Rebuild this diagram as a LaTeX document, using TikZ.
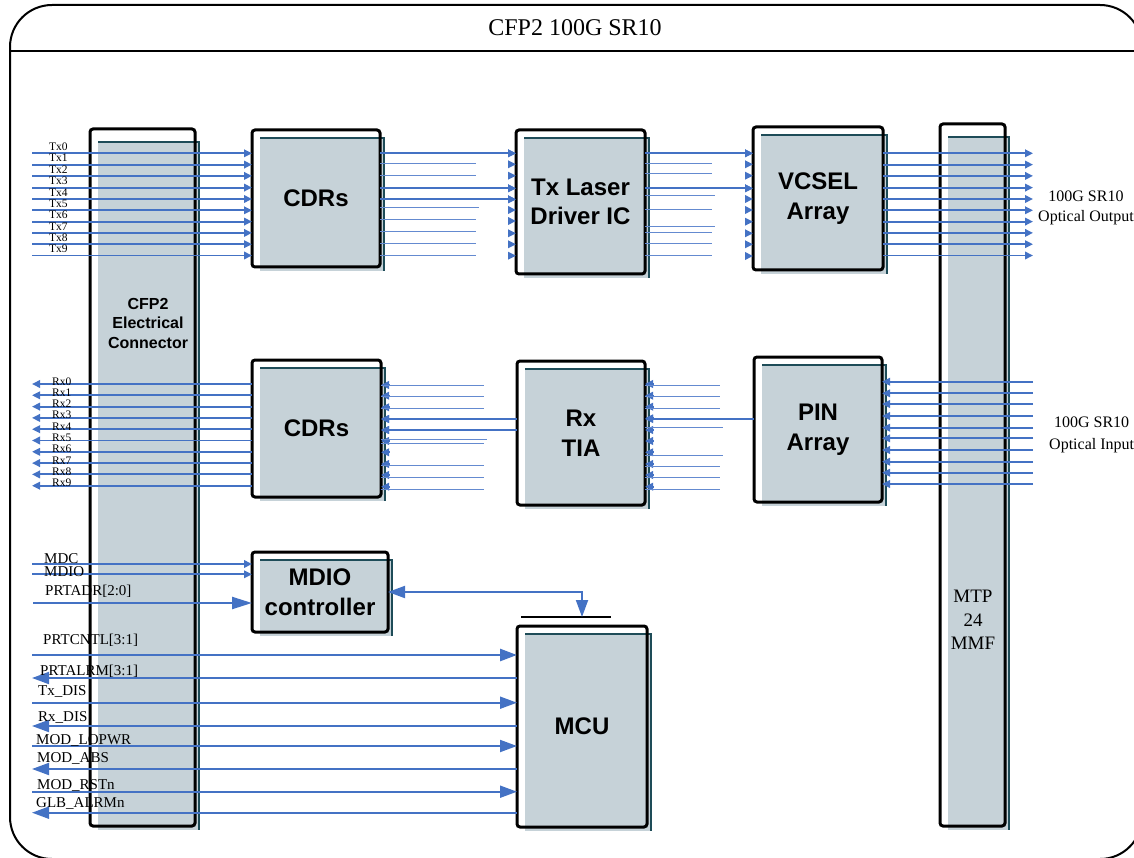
\documentclass[tikz,border=0pt]{standalone}
\usepackage{fontspec}
\setmainfont{Liberation Serif}
\setsansfont{Liberation Sans}
\usetikzlibrary{arrows.meta,calc}
\definecolor{lineblue}{RGB}{68,114,196}
\definecolor{thinblue}{RGB}{100,138,208}
\definecolor{boxgray}{RGB}{198,210,216}
\definecolor{tealedge}{RGB}{30,76,88}
\newcommand\blockbox[7]{%
  \fill[boxgray] (#2+8,#3+#6) rectangle (#4+5,#5+4);
  \draw[tealedge, line width=2.5pt] (#2+8,#3+#6) -- (#4+4,#3+#6) -- (#4+4,#5+4);
  \pgfmathsetmacro\bw{#4-#2}\pgfmathsetmacro\bh{#5-#3}%
  \node[blk, minimum width=\bw pt, minimum height=\bh pt] (#1) at ({(#2+#4)/2},{(#3+#5)/2}) {#7};
}
\tikzset{
  blk/.style={draw=black, line width=3pt, rounded corners=3pt, inner sep=0pt, outer sep=0pt,
    align=center, font=\fontsize{24}{29.5}\selectfont\sffamily\bfseries},
  sig/.style={draw=lineblue, line width=1.9pt},
  thinsig/.style={draw=thinblue, line width=1pt},
  sa/.style={-{Triangle[length=8pt,width=7.5pt]}},
  ba/.style={-{Triangle[length=17pt,width=12pt]}},
  chlab/.style={anchor=base west, inner sep=0pt, font=\fontsize{11.5}{11.5}\selectfont},
  siglab/.style={anchor=base west, inner sep=0pt, font=\fontsize{15}{15}\selectfont},
}
\begin{document}
\begin{tikzpicture}[x=1pt,y=-1pt]
\useasboundingbox (0,0) rectangle (1134,858);
% frame
\draw[line width=2pt, rounded corners=42pt] (10,5) rectangle (1142,859);
\draw[line width=2pt] (10,51) -- (1142,51);
\node[font=\fontsize{24}{24}\selectfont] (title) at (575,28) {CFP2 100G SR10};
% boxes
\blockbox{conn}{90}{129}{195}{826}{13}{}
\blockbox{mtp}{940}{124}{1005}{826}{13}{}
\blockbox{cdrT}{252}{130}{380}{267}{8}{CDRs}
\blockbox{tld}{516}{130}{645}{274}{8}{Tx Laser\\Driver IC}
\blockbox{vcsel}{753}{127}{883}{270}{8}{VCSEL\\Array}
\blockbox{cdrR}{252}{360}{381}{497}{8}{CDRs}
\blockbox{tia}{517}{361}{645}{505}{8}{Rx\\TIA}
\blockbox{pin}{754}{357}{882}{502}{8}{PIN\\Array}
\blockbox{mdio}{252}{552}{388}{632}{8}{MDIO\\controller}
\blockbox{mcu}{517}{626}{647}{827}{8}{MCU}
\node[align=center, font=\fontsize{16}{19.5}\selectfont\sffamily\bfseries] (connlab) at (148,323) {CFP2\\Electrical\\Connector};
\node[align=center, font=\fontsize{19}{23.5}\selectfont] (mtplab) at (973,620) {MTP\\24\\MMF};
% free ends
\coordinate (lft) at (32,0);
\coordinate (rgt) at (1033,0);
% Tx inputs
\foreach \y [count=\i from 0] in {153.3,164.6,175.9,187.6,199,210.3,221.6,232.9,244.2,255.5}{
  \draw[sig,sa] (lft |- 0,\y) -- (cdrT.west |- 0,\y);
  \node[chlab] at (49,\y-2.6) {Tx\i};
  \draw[sig,sa] (vcsel.east |- 0,\y) -- (rgt |- 0,\y);
}
% CDR -> Tx laser driver
\foreach \y in {153.3,164.3,175.7,188.3,199.3,210,221,233.3,244.3,255.7}{
  \draw[sig,sa] ($(tld.west |- 0,\y)+(-8,0)$) -- (tld.west |- 0,\y);
}
\foreach \y in {153.3,188.3,199.3}{\draw[sig,sa] (cdrT.east |- 0,\y) -- (tld.west |- 0,\y);}
\foreach \y/\xe in {163.3/476,175.7/476,207.7/479,220/476,231.7/476,243.3/476,255.7/476}{
  \draw[thinsig] (cdrT.east |- 0,\y) -- (\xe,\y);}
% Tx laser driver -> VCSEL
\foreach \y in {153.3,164.3,175.7,188.3,199,210,221.7,233.3,244.3,256}{
  \draw[sig,sa] ($(vcsel.west |- 0,\y)+(-8,0)$) -- (vcsel.west |- 0,\y);
}
\foreach \y in {153.3,188.3}{\draw[sig,sa] (tld.east |- 0,\y) -- (vcsel.west |- 0,\y);}
\foreach \y/\xe in {163.3/712,173.3/712,196/715,209.3/712,226.7/715,232.3/712,244/712,256/712}{
  \draw[thinsig] (tld.east |- 0,\y) -- (\xe,\y);}
% optical in -> PIN
\foreach \y in {381.7,393.3,404,416,427.7,438.3,450,461.7,472.7,484}{
  \draw[sig,sa] (rgt |- 0,\y) -- (pin.east |- 0,\y);
}
% PIN -> TIA
\foreach \y in {384,395.7,406.7,418.3,430,441,452.3,464,475,486.7}{
  \draw[sig,sa] ($(tia.east |- 0,\y)+(8,0)$) -- (tia.east |- 0,\y);
}
\draw[sig,sa] (pin.west |- 0,419) -- (tia.east |- 0,419);
\foreach \y/\xe in {385/720,396/720,408/720,427/723,455/723,466/720,477/720,489/720}{
  \draw[thinsig] (tia.east |- 0,\y) -- (\xe,\y);}
% TIA -> CDR
\foreach \y in {385,395.7,407.3,419,430,441,452.3,464,475,486.7}{
  \draw[sig,sa] ($(cdrR.east |- 0,\y)+(8,0)$) -- (cdrR.east |- 0,\y);
}
\foreach \y in {419,430}{\draw[sig,sa] (tia.west |- 0,\y) -- (cdrR.east |- 0,\y);}
\foreach \y/\xe in {385/484,396/484,408/484,439/487,443/484,465/484,477/484,489/484}{
  \draw[thinsig] (cdrR.east |- 0,\y) -- (\xe,\y);}
% Rx outputs
\foreach \y [count=\i from 0] in {384,395.3,406.6,417.9,429.2,440.5,451.8,463.1,474.4,485.7}{
  \draw[sig,sa] (cdrR.west |- 0,\y) -- (lft |- 0,\y);
  \node[chlab] at (52,\y+1) {Rx\i};
}
% optical labels
\node[align=center, font=\fontsize{16}{20}\selectfont, anchor=west, inner sep=0pt] (outlab) at (1038,208) {100G SR10\\Optical Output};
\node[align=center, font=\fontsize{16}{22}\selectfont, anchor=west, inner sep=0pt] (inlab) at (1049,435) {100G SR10\\Optical Input};
% MDIO signals
\draw[sig,sa] (lft |- 0,564) -- (mdio.west |- 0,564);
\draw[sig,sa] (lft |- 0,574.3) -- (mdio.west |- 0,574.3);
\draw[sig,line width=2.3pt,-{Triangle[length=20pt,width=12pt]}] (33,603) -- (mdio.west |- 0,603);
\node[siglab] at (44,563) {MDC};
\node[siglab] at (44,576) {MDIO};
\node[siglab] at (45,595) {PRTADR[2:0]};
% MDIO <-> MCU
\coordinate (barL) at (521,617);
\coordinate (barR) at (611,617);
\coordinate (bartip) at (582,617);
\draw[black, line width=2pt] (barL) -- (barR);
\draw[sig,{Triangle[length=17pt,width=12pt]}-{Triangle[length=17pt,width=12pt]}] (mdio.east |- 0,592) -- (bartip |- 0,592) -- (bartip);
% MCU signals
\draw[sig,line width=2.6pt,ba] (lft |- 0,655) -- (mcu.west |- 0,655);
\draw[sig,ba] (mcu.west |- 0,678) -- (lft |- 0,678);
\draw[sig,ba] (lft |- 0,702.7) -- (mcu.west |- 0,702.7);
\draw[sig,ba] (mcu.west |- 0,726) -- (lft |- 0,726);
\draw[sig,ba] (lft |- 0,746) -- (mcu.west |- 0,746);
\draw[sig,ba] (mcu.west |- 0,769) -- (lft |- 0,769);
\draw[sig,ba] (lft |- 0,791.7) -- (mcu.west |- 0,791.7);
\draw[sig,ba] (mcu.west |- 0,812.7) -- (lft |- 0,812.7);
\node[siglab] at (43,644) {PRTCNTL[3:1]};
\node[siglab] at (40,675) {PRTALRM[3:1]};
\node[siglab] at (38,695) {Tx\_DIS};
\node[siglab] at (38,721) {Rx\_DIS};
\node[siglab] at (36,744) {MOD\_LOPWR};
\node[siglab] at (37,762) {MOD\_ABS};
\node[siglab] at (37,789.5) {MOD\_RSTn};
\node[siglab] at (36,807) {GLB\_ALRMn};
\end{tikzpicture}
\end{document}
